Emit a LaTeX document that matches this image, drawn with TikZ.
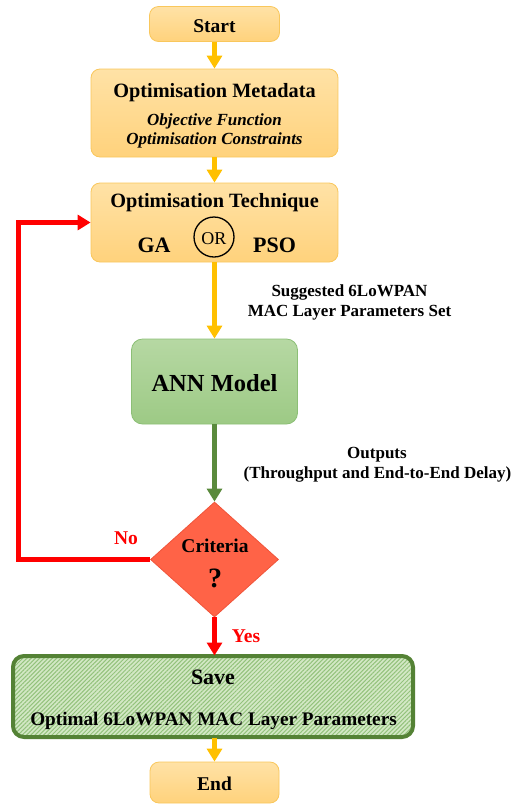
\documentclass[tikz,border=0pt]{standalone}
\usepackage{fontspec}
\setmainfont{Liberation Serif}
\usetikzlibrary{arrows.meta,shapes.geometric,patterns.meta}
\definecolor{ytop}{HTML}{FFE2A6}
\definecolor{ybot}{HTML}{FFD27C}
\definecolor{ybord}{HTML}{F9C75C}
\definecolor{yarrowc}{HTML}{FFC000}
\definecolor{gtop}{HTML}{B6D8A3}
\definecolor{gbot}{HTML}{9DCA85}
\definecolor{gbord}{HTML}{8CBF76}
\definecolor{garrowc}{HTML}{5A8A3C}
\definecolor{diamfill}{HTML}{FF6347}
\definecolor{diambord}{HTML}{F0543A}
\definecolor{redc}{HTML}{FF0000}
\definecolor{savebord}{HTML}{548235}
\definecolor{hatchbase}{HTML}{D3E8C5}
\definecolor{hatchline}{HTML}{93C27C}
\tikzset{
  ybox/.style={rectangle, rounded corners=9pt, draw=ybord, line width=0.8pt, top color=ytop, bottom color=ybot, inner sep=0pt},
  gbox/.style={rectangle, rounded corners=11pt, draw=gbord, line width=0.8pt, top color=gtop, bottom color=gbot, inner sep=0pt},
  savebox/.style={rectangle, rounded corners=11pt, draw=savebord, line width=4pt, preaction={fill=hatchbase}, pattern={Lines[angle=45,distance=3pt,line width=1pt]}, pattern color=hatchline, inner sep=0pt},
  decision/.style={diamond, draw=diambord, line width=0.8pt, fill=diamfill, inner sep=0pt},
  txt/.style={inner sep=0pt, anchor=base},
  fh/.style={font=\fontsize{19.5}{23}\selectfont\bfseries},
  fhb/.style={font=\fontsize{20.3}{24}\selectfont\bfseries},
  fi/.style={font=\fontsize{17}{20}\selectfont\bfseries\itshape},
  fl/.style={font=\fontsize{17}{20}\selectfont\bfseries},
  tip/.style={-{Triangle[width=15pt,length=13pt]}},
  yarr/.style={draw=yarrowc, line width=4.5pt, tip},
  garr/.style={draw=garrowc, line width=4.5pt, tip},
  rarr/.style={draw=redc, line width=5pt, tip},
}
\begin{document}
\begin{tikzpicture}[x=1pt,y=-1pt]
\useasboundingbox (0,0) rectangle (523,804);
% boxes
\node[ybox, minimum width=130pt, minimum height=35pt] (start) at (214.5,24) {};
\node[ybox, minimum width=247pt, minimum height=88pt] (meta) at (214.5,113) {};
\node[ybox, minimum width=247pt, minimum height=79pt] (tech) at (214.5,222.5) {};
\node[gbox, minimum width=166pt, minimum height=85pt] (ann) at (214.5,381.5) {};
\node[decision, minimum width=128pt, minimum height=115pt] (crit) at (214.5,559.5) {};
\node[savebox, minimum width=400pt, minimum height=81pt] (save) at (213,696.5) {};
\node[ybox, minimum width=129pt, minimum height=41pt] (end) at (214.5,782.5) {};
% texts
\node[txt, fh] (tstart) at (214.5,32) {Start};
\node[txt, fhb] (tmeta) at (214.5,97) {Optimisation Metadata};
\node[txt, fi] (tobj) at (214.5,125) {Objective Function};
\node[txt, fi] (tcons) at (214.5,144) {Optimisation Constraints};
\node[txt, fhb] (ttech) at (214.5,207) {Optimisation Technique};
\node[txt, font=\fontsize{22}{26}\selectfont\bfseries] (tga) at (154,252) {GA};
\node[circle, draw=black, line width=1.3pt, minimum size=40pt, inner sep=0pt] (orc) at (214,237) {};
\node[txt, font=\fontsize{18}{21}\selectfont] (tor) at (214,244.5) {OR};
\node[txt, font=\fontsize{22}{26}\selectfont\bfseries] (tpso) at (274.5,252) {PSO};
\node[txt, font=\fontsize{24.5}{29}\selectfont\bfseries] (tann) at (214.5,391) {ANN Model};
\node[txt, fh] (tcrit) at (215,552) {Criteria};
\node[txt, font=\fontsize{28}{32}\selectfont\bfseries] (tq) at (215,587) {?};
\node[txt, font=\fontsize{22}{26}\selectfont\bfseries] (tsave) at (213,684) {Save};
\node[txt, font=\fontsize{19.2}{23}\selectfont\bfseries] (topt) at (213.5,725) {Optimal 6LoWPAN MAC Layer Parameters};
\node[txt, fh] (tend) at (214.5,790) {End};
% labels
\node[txt, fl] (lsug1) at (349.5,296) {Suggested 6LoWPAN};
\node[txt, fl] (lsug2) at (349.5,316) {MAC Layer Parameters Set};
\node[txt, fl] (lout1) at (377,458) {Outputs};
\node[txt, fl] (lout2) at (377.5,478) {(Throughput and End-to-End Delay)};
\node[txt, fh, text=redc] (lno) at (126,544) {No};
\node[txt, fh, text=redc] (lyes) at (246,642) {Yes};
% connectors
\coordinate (nocorner) at (18,559.5);
\draw[yarr] (start) -- (meta);
\draw[yarr] (meta) -- (tech);
\draw[yarr] (tech) -- (ann);
\draw[garr] (ann) -- (crit);
\draw[rarr] (crit.south) -- (crit.south |- save.north);
\draw[yarr] (save.south -| end.north) -- (end);
\draw[rarr] (crit.west) -- (nocorner) |- (tech.west);
\end{tikzpicture}
\end{document}
